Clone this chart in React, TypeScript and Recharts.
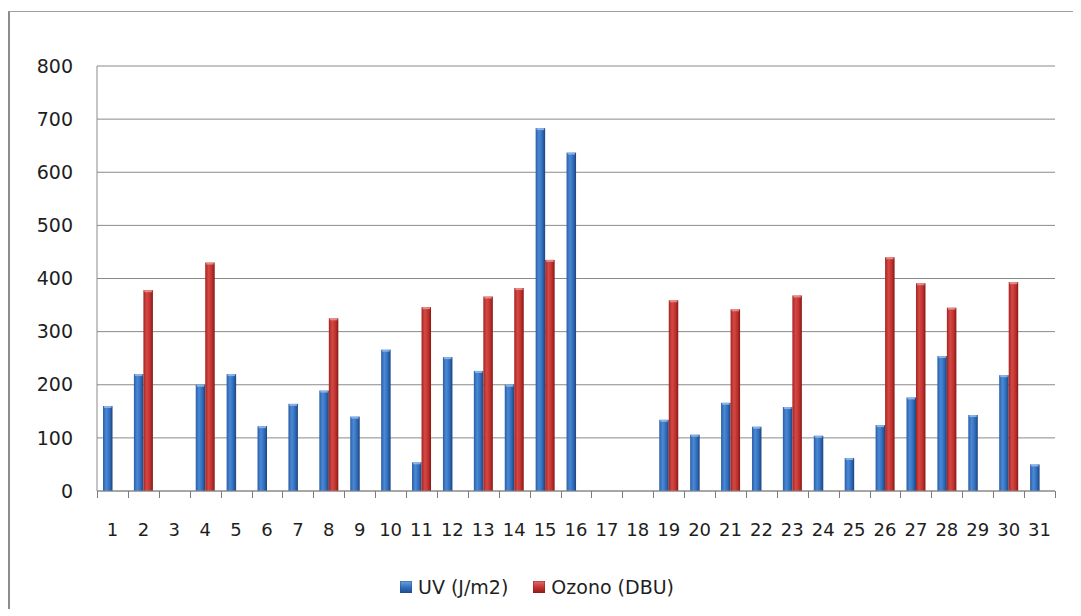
import React from "react";
import { BarChart, Bar, XAxis, YAxis, CartesianGrid, Legend } from "recharts";

// days of the month
const days = [
  "1", "2", "3", "4", "5", "6", "7", "8", "9", "10", "11", "12", "13", "14", "15", "16",
  "17", "18", "19", "20", "21", "22", "23", "24", "25", "26", "27", "28", "29", "30", "31",
];

const uvValues = [
  160, 220, null, 200, 220, 122, 164, 189, 140, 266, 54, 252, 226, 200, 683, 637,
  null, null, 134, 106, 166, 121, 158, 104, 62, 124, 176, 254, 143, 218, 50,
];

const ozoneValues = [
  null, 378, null, 430, null, null, null, 325, null, null, 346, null, 366, 382, 435, null,
  null, null, 359, null, 342, null, 368, null, null, 440, 391, 345, null, 393, null,
];

const yTicks = [0, 100, 200, 300, 400, 500, 600, 700, 800];

const seriesNames = { uv: "UV (J/m2)", ozone: "Ozono (DBU)" };

const data = days.map((d, i) => ({ day: d, uv: uvValues[i], ozone: ozoneValues[i] }));

const CHART_W = 1063;
const CHART_H = 600;
const Y_W = 87;
const M_RIGHT = 18;
const HALF_BAND = (CHART_W - Y_W - M_RIGHT) / days.length / 2;
const GRID = "#8a8a8a";
const FONT = "'DejaVu Sans', Verdana, sans-serif";

// label plus a small mark on the boundary between days
const DayTick = (props: any) => {
  const { x, y, payload, index } = props;
  const last = index === days.length - 1;
  const tx = Number(x);
  const ty = Number(y);
  const left = Math.round(tx - HALF_BAND) + 0.5;
  const right = Math.round(tx + HALF_BAND) + 0.5;
  return (
    <g>
      <path d={`M${left},${ty}V${ty + 7}`} stroke="#7c7c7c" strokeWidth={1} />
      {last && <path d={`M${right},${ty}V${ty + 7}`} stroke="#7c7c7c" strokeWidth={1} />}
      <text x={tx} y={ty + 45} textAnchor="middle" fontSize={18} fill="#1e1e1e" fontFamily={FONT}>
        {payload.value}
      </text>
    </g>
  );
};

const Cylinder = (props: any) => {
  const { x, y, width, height, fill, cap } = props;
  if (!height || height <= 0) return null;
  return (
    <g>
      <rect x={x} y={y} width={width} height={height} fill={fill} />
      <rect x={x + 1} y={y} width={width - 2} height={2} fill={cap} opacity={0.8} />
    </g>
  );
};

const LegendSwatch = ({ id, c1, c2, c3 }: { id: string; c1: string; c2: string; c3: string }) => (
  <svg width={12} height={12} style={{ marginRight: 6 }}>
    <defs>
      <linearGradient id={id} x1="0" y1="0" x2="0" y2="1">
        <stop offset="0%" stopColor={c1} />
        <stop offset="50%" stopColor={c2} />
        <stop offset="100%" stopColor={c3} />
      </linearGradient>
    </defs>
    <rect x={0} y={0} width={12} height={12} fill={`url(#${id})`} stroke={c3} strokeWidth={0.8} />
  </svg>
);

const LegendBox = () => (
  <div
    style={{
      height: 30,
      display: "flex",
      justifyContent: "center",
      alignItems: "center",
      fontFamily: FONT,
      fontSize: 19,
      color: "#1e1e1e",
      paddingLeft: 9,
    }}
  >
    <span style={{ display: "flex", alignItems: "center", marginRight: 25 }}>
      <LegendSwatch id="lgBlue" c1="#6fa2e0" c2="#3471bf" c3="#1d4c8c" />
      {seriesNames.uv}
    </span>
    <span style={{ display: "flex", alignItems: "center" }}>
      <LegendSwatch id="lgRed" c1="#e07070" c2="#c73533" c3="#8e1c1a" />
      {seriesNames.ozone}
    </span>
  </div>
);

export default function App() {
  return (
    <div style={{ width: 1073, overflow: "hidden" }}>
      <div
        style={{
          position: "relative",
          top: 3,
          width: 1073,
          height: CHART_H + 1,
          borderLeft: "2px solid #8c8c8c",
          borderTop: "1px solid #a0a0a0",
          boxSizing: "border-box",
          background: "#fff",
        }}
      >
        <BarChart
          width={CHART_W}
          height={CHART_H}
          data={data}
          margin={{ top: 54, right: M_RIGHT, bottom: 10, left: 0 }}
          barGap={0}
          barSize={9.5}
        >
          <defs>
            <linearGradient id="blueBar" x1="0" y1="0" x2="1" y2="0">
              <stop offset="0%" stopColor="#2a5ea6" />
              <stop offset="35%" stopColor="#4a89d6" />
              <stop offset="70%" stopColor="#306cb9" />
              <stop offset="100%" stopColor="#1b447e" />
            </linearGradient>
            <linearGradient id="redBar" x1="0" y1="0" x2="1" y2="0">
              <stop offset="0%" stopColor="#a52321" />
              <stop offset="35%" stopColor="#d44945" />
              <stop offset="70%" stopColor="#c0312d" />
              <stop offset="100%" stopColor="#861816" />
            </linearGradient>
          </defs>
          <CartesianGrid vertical={false} stroke={GRID} />
          <XAxis
            dataKey="day"
            height={81}
            stroke={GRID}
            tickLine={false}
            tickSize={0}
            tickMargin={0}
            interval={0}
            tick={<DayTick />}
          />
          <YAxis
            width={Y_W}
            domain={[0, 800]}
            ticks={yTicks}
            stroke={GRID}
            tickLine={false}
            tickSize={0}
            tickMargin={24}
            tick={{ fontSize: 19, fill: "#1e1e1e", fontFamily: FONT }}
          />
          <Legend verticalAlign="bottom" content={<LegendBox />} />
          <Bar
            dataKey="uv"
            name={seriesNames.uv}
            fill="url(#blueBar)"
            shape={(p: any) => <Cylinder {...p} cap="#9cc0ee" />}
            isAnimationActive={false}
          />
          <Bar
            dataKey="ozone"
            name={seriesNames.ozone}
            fill="url(#redBar)"
            shape={(p: any) => <Cylinder {...p} cap="#ee9c9a" />}
            isAnimationActive={false}
          />
        </BarChart>
      </div>
    </div>
  );
}
